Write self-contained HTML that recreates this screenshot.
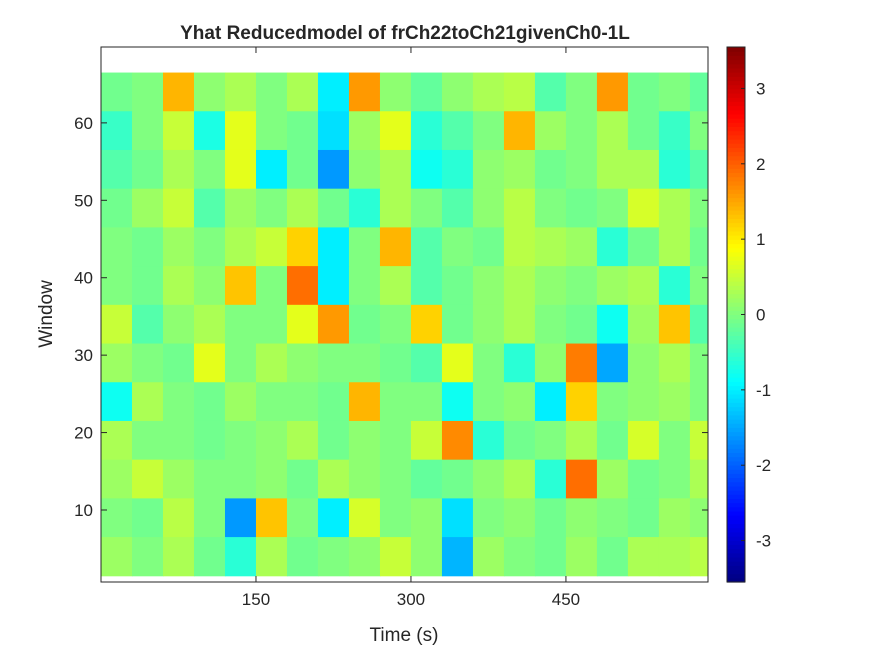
<!DOCTYPE html>
<html><head><meta charset="utf-8"><style>
body{margin:0;background:#fff;}
svg text{font-family:"Liberation Sans",sans-serif;fill:#262626;}
</style></head><body>
<svg id="chart" width="875" height="656" xmlns="http://www.w3.org/2000/svg">
<rect width="875" height="656" fill="#fff"/>
<text x="405" y="39" font-size="19" font-weight="bold" text-anchor="middle">Yhat Reducedmodel of frCh22toCh21givenCh0-1L</text>
<rect x="101" y="47" width="607" height="535" fill="#fff"/>
<g id="cells"></g>
<g id="axes"></g>
<g id="cbar"></g>
<text x="404" y="641" font-size="19" text-anchor="middle">Time (s)</text>
<text transform="translate(52,314) rotate(-90)" font-size="19" text-anchor="middle">Window</text>
</svg>
<script>
const colStarts = [0,30,60,90,120,150,180,210,240,270,300,330,360,390,420,450,480,510,540,570];
const colWidth = 30;
const rowStarts = [61.5,56.5,51.5,46.5,41.5,36.5,31.5,26.5,21.5,16.5,11.5,6.5,1.5];
const rowHeight = 5;
const values = [
[-0.1,0.0,1.4,0.1,0.3,0.0,0.3,-1.0,1.6,0.1,-0.2,0.1,0.3,0.4,-0.3,0.0,1.6,-0.1,0.0,-0.2],
[-0.5,0.0,0.5,-0.7,0.7,0.0,-0.1,-1.1,0.2,0.7,-0.6,-0.3,0.0,1.4,0.2,0.0,0.3,-0.1,-0.5,0.0],
[-0.3,-0.1,0.3,0.0,0.7,-1.0,-0.1,-1.6,0.1,0.3,-0.8,-0.6,0.1,0.2,-0.1,0.0,0.3,0.3,-0.6,-0.3],
[-0.1,0.2,0.5,-0.3,0.2,0.0,0.3,-0.1,-0.6,0.3,0.0,-0.3,0.1,0.4,0.0,-0.1,0.0,0.6,0.3,0.0],
[0.0,-0.1,0.2,0.0,0.3,0.5,1.2,-1.0,0.0,1.4,-0.3,0.0,-0.1,0.4,0.3,0.2,-0.6,-0.1,0.3,-0.1],
[0.0,-0.1,0.3,0.1,1.3,0.0,1.9,-1.0,0.0,0.3,-0.3,-0.1,0.1,0.3,0.1,0.0,0.2,0.3,-0.6,0.0],
[0.5,-0.3,0.1,0.3,0.0,0.0,0.7,1.6,-0.1,0.0,1.2,-0.1,0.1,0.3,0.0,-0.1,-0.8,0.2,1.3,-0.3],
[0.2,0.0,-0.1,0.7,0.0,0.3,0.1,0.0,0.0,-0.1,-0.3,0.7,0.0,-0.6,0.1,1.8,-1.5,0.1,0.3,0.0],
[-0.8,0.3,0.0,-0.1,0.2,0.0,0.0,-0.1,1.4,0.0,0.0,-0.8,0.0,0.1,-1.0,1.2,0.0,0.1,0.2,0.0],
[0.3,0.0,0.0,-0.1,0.0,0.1,0.3,-0.1,0.1,0.0,0.5,1.7,-0.6,-0.1,0.0,0.3,-0.1,0.6,0.0,0.5],
[0.2,0.5,0.2,0.0,0.0,0.1,-0.1,0.3,0.1,0.0,-0.2,-0.1,0.1,0.3,-0.6,1.9,0.2,-0.1,0.0,0.3],
[0.0,-0.1,0.4,0.0,-1.6,1.3,0.0,-1.0,0.6,0.0,0.1,-1.1,0.0,0.1,-0.1,0.1,0.0,-0.1,0.2,0.1],
[0.2,0.0,0.3,-0.1,-0.6,0.3,-0.1,0.0,0.1,0.5,0.1,-1.4,0.2,0.0,-0.1,0.2,-0.1,0.3,0.3,0.4]
];
const xTicks = [150,300,450];
const yTicks = [10,20,30,40,50,60];
const cTicks = [-3,-2,-1,0,1,2,3];

const NS="http://www.w3.org/2000/svg";
const X0=101,X1=708,Y0=47,Y1=582;
const xMin=0,xMax=587.5,yMin=0.7,yMax=69.8,cMin=-3.55,cMax=3.55;
const sx=v=>X0+(v-xMin)/(xMax-xMin)*(X1-X0);
const sy=v=>Y1-(v-yMin)/(yMax-yMin)*(Y1-Y0);
function jet(t){t=Math.max(0,Math.min(1,t));
 const f=x=>Math.round(255*Math.max(0,Math.min(1,x)));
 return `rgb(${f(1.5-Math.abs(4*t-3))},${f(1.5-Math.abs(4*t-2))},${f(1.5-Math.abs(4*t-1))})`;}
const cmap=v=>jet((v-cMin)/(cMax-cMin));
function mk(tag,attrs,parent){const e=document.createElementNS(NS,tag);for(const k in attrs)e.setAttribute(k,attrs[k]);parent.appendChild(e);return e;}
const cells=document.getElementById('cells');
values.forEach((row,i)=>row.forEach((v,j)=>{
 const x0=sx(colStarts[j]),x1=Math.min(sx(colStarts[j]+colWidth),X1);
 const yTop=sy(rowStarts[i]+rowHeight),yBot=sy(rowStarts[i]);
 const r=mk('rect',{x:x0,y:yTop,width:x1-x0+0.5,height:yBot-yTop+0.5,fill:cmap(v)},cells);
 
 
}));
const axes=document.getElementById('axes');
const frame=mk('rect',{x:X0,y:Y0,width:X1-X0,height:Y1-Y0,fill:'none',stroke:'#262626','stroke-width':1},axes);


xTicks.forEach(t=>{const x=sx(t);
 mk('line',{x1:x,x2:x,y1:Y1,y2:Y1-6,stroke:'#262626'},axes);
 mk('line',{x1:x,x2:x,y1:Y0,y2:Y0+6,stroke:'#262626'},axes);
 const tx=mk('text',{x:x,y:Y1+23,'font-size':17,'text-anchor':'middle'},axes);tx.textContent=t;
 
 
});
yTicks.forEach(t=>{const y=sy(t);
 mk('line',{x1:X0,x2:X0+6,y1:y,y2:y,stroke:'#262626'},axes);
 mk('line',{x1:X1,x2:X1-6,y1:y,y2:y,stroke:'#262626'},axes);
 const tx=mk('text',{x:X0-8,y:y+6,'font-size':17,'text-anchor':'end'},axes);tx.textContent=t;
 
 
});
const cb=document.getElementById('cbar');const CX0=727,CX1=745;
const cy=v=>Y1-(v-cMin)/(cMax-cMin)*(Y1-Y0);
for(let k=0;k<128;k++){const v0=cMin+(cMax-cMin)*k/128,v1=cMin+(cMax-cMin)*(k+1)/128;
 mk('rect',{x:CX0,y:cy(v1),width:CX1-CX0,height:cy(v0)-cy(v1)+0.6,fill:cmap((v0+v1)/2)},cb);}
const cf=mk('rect',{x:CX0,y:Y0,width:CX1-CX0,height:Y1-Y0,fill:'none',stroke:'#262626'},cb);


cTicks.forEach(t=>{const y=cy(t);
 mk('line',{x1:CX1,x2:CX1-4,y1:y,y2:y,stroke:'#262626'},cb);
 const tx=mk('text',{x:CX1+11,y:y+6,'font-size':17},cb);tx.textContent=t;
 
 
});
</script>
</body></html>
